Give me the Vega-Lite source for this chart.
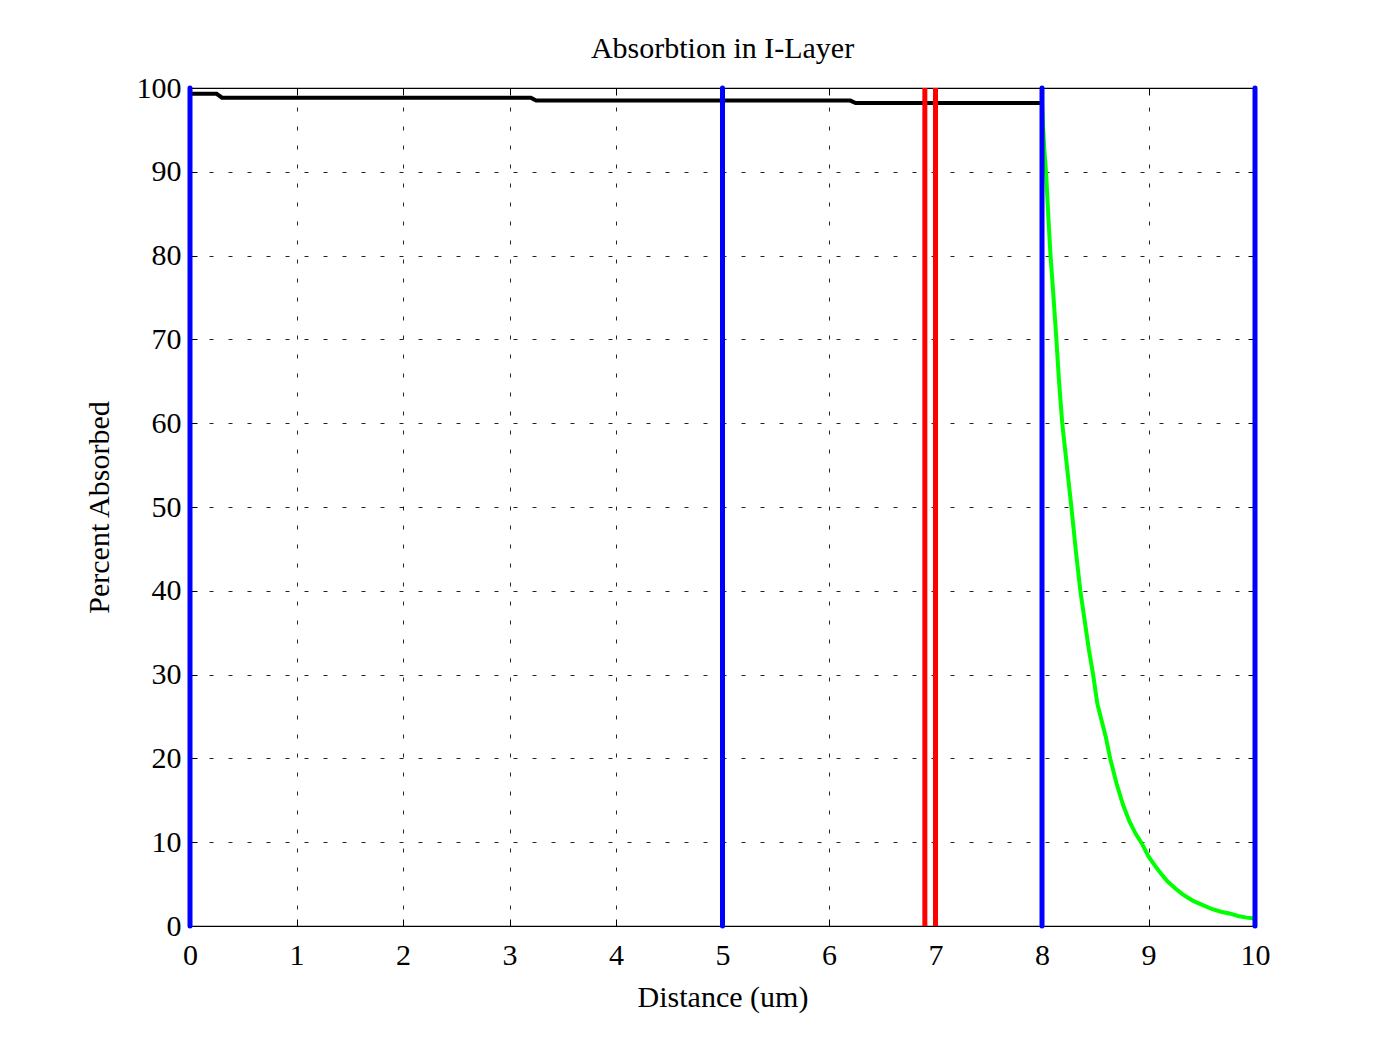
{
  "$schema": "https://vega.github.io/schema/vega-lite/v6.json",
  "autosize": {"type": "none"},
  "padding": {"left": 190, "top": 88, "right": 123, "bottom": 113},
  "width": 1065,
  "height": 838,
  "background": "white",
  "title": {
    "text": "Absorbtion in I-Layer",
    "font": "Liberation Serif",
    "fontSize": 30,
    "fontWeight": "normal",
    "color": "black",
    "anchor": "middle",
    "baseline": "alphabetic",
    "offset": -15
  },
  "config": {
    "view": {"stroke": "black", "strokeWidth": 1.2},
    "axis": {
      "labelFont": "Liberation Serif",
      "titleFont": "Liberation Serif",
      "labelFontSize": 30,
      "titleFontSize": 30,
      "titleFontWeight": "normal",
      "labelColor": "black",
      "titleColor": "black",
      "domain": false,
      "tickColor": "black",
      "tickSize": -7,
      "tickWidth": 1,
      "gridColor": "black",
      "gridDash": [4, 15],
      "gridWidth": 1,
      "gridOpacity": 0.85,
      "labelFlush": false
    }
  },
  "datasets": {
    "black": [
      {"x": 0.0, "y": 99.3},
      {"x": 0.25, "y": 99.3},
      {"x": 0.3, "y": 98.85},
      {"x": 3.2, "y": 98.85},
      {"x": 3.25, "y": 98.5},
      {"x": 6.2, "y": 98.5},
      {"x": 6.25, "y": 98.2},
      {"x": 8.0, "y": 98.2}
    ],
    "green": [
      {"x": 8.0, "y": 98.2},
      {"x": 8.01, "y": 95.5},
      {"x": 8.02, "y": 93},
      {"x": 8.04, "y": 89.5},
      {"x": 8.06, "y": 84.5},
      {"x": 8.08, "y": 80},
      {"x": 8.1, "y": 76.5},
      {"x": 8.13, "y": 71},
      {"x": 8.16, "y": 65},
      {"x": 8.19, "y": 60},
      {"x": 8.22, "y": 56.5},
      {"x": 8.25, "y": 53},
      {"x": 8.28, "y": 49.5},
      {"x": 8.32, "y": 44.5},
      {"x": 8.36, "y": 40},
      {"x": 8.4, "y": 36.5},
      {"x": 8.44, "y": 33},
      {"x": 8.48, "y": 30},
      {"x": 8.52, "y": 26.5},
      {"x": 8.56, "y": 24.5},
      {"x": 8.6, "y": 22.5},
      {"x": 8.64, "y": 20},
      {"x": 8.7, "y": 17},
      {"x": 8.76, "y": 14.5},
      {"x": 8.82, "y": 12.5},
      {"x": 8.88, "y": 11},
      {"x": 8.94, "y": 9.8},
      {"x": 9.0, "y": 8.3},
      {"x": 9.06, "y": 7.2},
      {"x": 9.12, "y": 6.2},
      {"x": 9.18, "y": 5.3},
      {"x": 9.25, "y": 4.5},
      {"x": 9.33, "y": 3.7},
      {"x": 9.42, "y": 3.0},
      {"x": 9.51, "y": 2.5},
      {"x": 9.6, "y": 2.0},
      {"x": 9.68, "y": 1.7},
      {"x": 9.76, "y": 1.5},
      {"x": 9.84, "y": 1.2},
      {"x": 9.92, "y": 1.0},
      {"x": 10.0, "y": 0.9}
    ],
    "blue": [
      {"x": 0, "y": 0, "y2": 100},
      {"x": 5, "y": 0, "y2": 100},
      {"x": 8, "y": 0, "y2": 100},
      {"x": 10, "y": 0, "y2": 100}
    ],
    "red": [
      {"x": 6.9, "y": 0, "y2": 100},
      {"x": 7.0, "y": 0, "y2": 100}
    ]
  },
  "resolve": {"axis": {"x": "independent", "y": "independent"}},
  "layer": [
    {
      "data": {"name": "black"},
      "mark": {"type": "line", "color": "black", "strokeWidth": 4},
      "encoding": {
        "x": {
          "field": "x", "type": "quantitative",
          "scale": {"domain": [0, 10], "nice": false, "zero": false},
          "axis": {"orient": "bottom", "values": [0,1,2,3,4,5,6,7,8,9,10], "title": "Distance (um)", "labelPadding": 21, "titlePadding": 12}
        },
        "y": {
          "field": "y", "type": "quantitative",
          "scale": {"domain": [0, 100], "nice": false},
          "axis": {"orient": "left", "values": [0,10,20,30,40,50,60,70,80,90,100], "title": "Percent Absorbed", "labelPadding": 16, "titlePadding": 22}
        }
      }
    },
    {
      "data": {"name": "green"},
      "mark": {"type": "line", "color": "#00ff00", "strokeWidth": 4},
      "encoding": {
        "x": {"field": "x", "type": "quantitative", "axis": {"orient": "top", "values": [0,1,2,3,4,5,6,7,8,9,10], "labels": false, "grid": false, "title": null}},
        "y": {"field": "y", "type": "quantitative", "axis": {"orient": "right", "values": [0,10,20,30,40,50,60,70,80,90,100], "labels": false, "grid": false, "title": null}}
      }
    },
    {
      "data": {"name": "red"},
      "mark": {"type": "rule", "color": "#ff0000", "strokeWidth": 5},
      "encoding": {
        "x": {"field": "x", "type": "quantitative", "axis": null},
        "y": {"field": "y", "type": "quantitative", "axis": null},
        "y2": {"field": "y2"}
      }
    },
    {
      "data": {"name": "blue"},
      "mark": {"type": "rule", "color": "#0000ff", "strokeWidth": 5, "strokeCap": "round"},
      "encoding": {
        "x": {"field": "x", "type": "quantitative", "axis": null},
        "y": {"field": "y", "type": "quantitative", "axis": null},
        "y2": {"field": "y2"}
      }
    }
  ]
}
